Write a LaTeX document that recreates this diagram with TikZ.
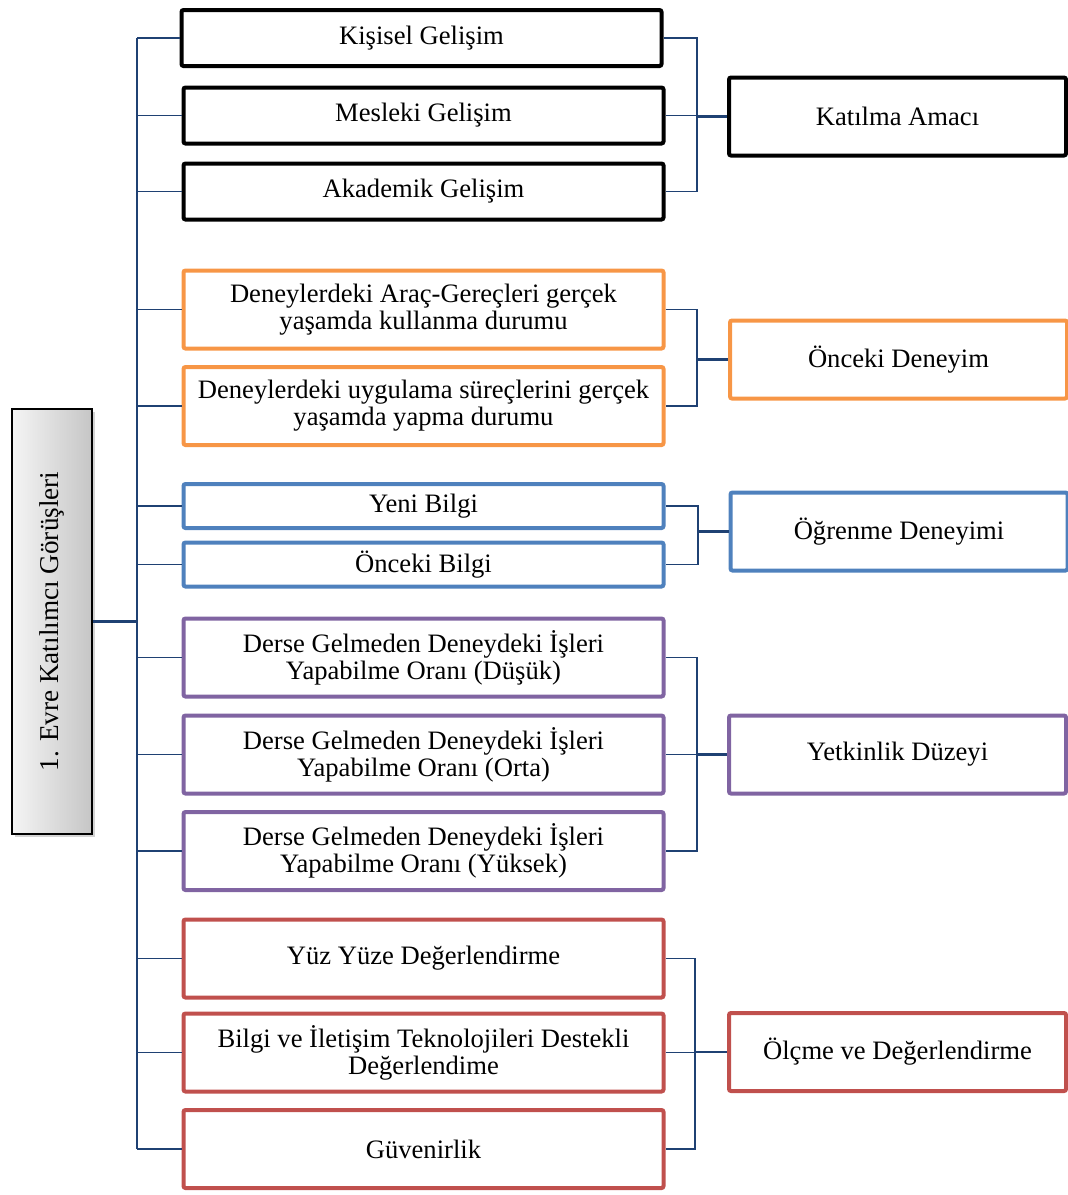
\documentclass[tikz,border=0pt]{standalone}
\usepackage{fontspec}
\setmainfont{Liberation Serif}
\usetikzlibrary{shadows}
\definecolor{connblue}{HTML}{1F4173}
\definecolor{orangeb}{HTML}{F79646}
\definecolor{blueb}{HTML}{4F81BD}
\definecolor{purpleb}{HTML}{8064A2}
\definecolor{redb}{HTML}{C0504D}
\begin{document}
\begin{tikzpicture}[x=0.5pt,y=-0.5pt,
	every node/.style={font=\fontsize{13.3}{13.6}\selectfont, align=center},
	midbox/.style={draw, line width=2pt, rounded corners=1pt, minimum width=240pt, inner sep=2pt},
	rightbox/.style={draw, line width=2pt, rounded corners=1pt, minimum width=168.5pt, minimum height=39pt, inner sep=2pt},
	conn/.style={draw=connblue, line width=0.8pt},
	thickconn/.style={draw=connblue, line width=1.3pt}]
	\useasboundingbox (0,0) rectangle (1068,1195);

	% root
	\draw[] (52,621.5) node[draw=black, line width=0.6pt, minimum width=40pt, minimum height=212.5pt,
		left color=gray!8, right color=gray!45, drop shadow={shadow xshift=1.5pt, shadow yshift=-1.5pt, opacity=0.35},
		font=\fontsize{13.6}{14}\selectfont] (Evre) {\rotatebox{90}{1. Evre Katılımcı Görüşleri}};

	% middle column
	\draw[] (421.5,38) node[midbox, minimum height=28pt] (Kisisel) {Kişisel Gelişim};
	\draw[] (423.5,115.5) node[midbox, minimum height=28pt] (Mesleki) {Mesleki Gelişim};
	\draw[] (423.5,191.5) node[midbox, minimum height=28pt] (Akademik) {Akademik Gelişim};

	\draw[] (423.5,309.5) node[midbox, draw=orangeb, minimum height=39pt] (AracGerec) {Deneylerdeki Araç-Gereçleri gerçek\\yaşamda kullanma durumu};
	\draw[] (423.5,406) node[midbox, draw=orangeb, minimum height=39pt] (Uygulama) {Deneylerdeki uygulama süreçlerini gerçek\\yaşamda yapma durumu};

	\draw[] (423.5,506) node[midbox, draw=blueb, minimum height=22pt] (YeniBilgi) {Yeni Bilgi};
	\draw[] (423.5,564.5) node[midbox, draw=blueb, minimum height=22pt] (OncekiBilgi) {Önceki Bilgi};

	\draw[] (423.5,657.5) node[midbox, draw=purpleb, minimum height=39pt] (YapDusuk) {Derse Gelmeden Deneydeki İşleri\\Yapabilme Oranı (Düşük)};
	\draw[] (423.5,754.5) node[midbox, draw=purpleb, minimum height=39pt] (YapOrta) {Derse Gelmeden Deneydeki İşleri\\Yapabilme Oranı (Orta)};
	\draw[] (423.5,851) node[midbox, draw=purpleb, minimum height=39pt] (YapYuksek) {Derse Gelmeden Deneydeki İşleri\\Yapabilme Oranı (Yüksek)};

	\draw[] (423.5,958.5) node[midbox, draw=redb, minimum height=39pt] (YuzYuze) {Yüz Yüze Değerlendirme};
	\draw[] (423.5,1052.5) node[midbox, draw=redb, minimum height=39pt] (BitDestekli) {Bilgi ve İletişim Teknolojileri Destekli\\Değerlendime};
	\draw[] (423.5,1149) node[midbox, draw=redb, minimum height=39pt] (Guvenirlik) {Güvenirlik};

	% right column
	\draw[] (897.5,116.5) node[rightbox] (KatilmaAmaci) {Katılma Amacı};
	\draw[] (898.5,359.5) node[rightbox, draw=orangeb] (OncekiDeneyim) {Önceki Deneyim};
	\draw[] (899,531.5) node[rightbox, draw=blueb] (OgrenmeDeneyimi) {Öğrenme Deneyimi};
	\draw[] (897.5,754.5) node[rightbox, draw=purpleb] (YetkinlikDuzeyi) {Yetkinlik Düzeyi};
	\draw[] (897.5,1052) node[rightbox, draw=redb] (OlcmeDeger) {Ölçme ve Değerlendirme};

	% trunk
	\coordinate (Trunk) at (137,621.5);
	\draw[thickconn] (Evre.east) -- (Trunk);
	\draw[conn] (Trunk |- Kisisel.west) -- (Trunk |- Guvenirlik.west);
	\foreach \n in {Kisisel,Mesleki,Akademik,AracGerec,Uygulama,YeniBilgi,OncekiBilgi,YapDusuk,YapOrta,YapYuksek,YuzYuze,BitDestekli,Guvenirlik}
		\draw[conn] (Trunk |- \n.west) -- (\n.west);

	% brackets
	\coordinate (BrA) at (697,116.5);
	\coordinate (BrB) at (697,359.5);
	\coordinate (BrC) at (698,531.5);
	\coordinate (BrD) at (697,754.5);
	\coordinate (BrE) at (695,1052);

	\draw[conn] (Kisisel.east) -| (BrA) |- (Akademik.east);
	\draw[conn] (Mesleki.east) -- (Mesleki.east -| BrA);
	\draw[thickconn] (BrA) -- (KatilmaAmaci.west);

	\draw[conn] (AracGerec.east) -| (BrB) |- (Uygulama.east);
	\draw[thickconn] (BrB) -- (OncekiDeneyim.west);

	\draw[conn] (YeniBilgi.east) -| (BrC) |- (OncekiBilgi.east);
	\draw[thickconn] (BrC) -- (OgrenmeDeneyimi.west);

	\draw[conn] (YapDusuk.east) -| (BrD) |- (YapYuksek.east);
	\draw[conn] (YapOrta.east) -- (BrD);
	\draw[thickconn] (BrD) -- (YetkinlikDuzeyi.west);

	\draw[conn] (YuzYuze.east) -| (BrE) |- (Guvenirlik.east);
	\draw[conn] (BitDestekli.east) -- (BitDestekli.east -| BrE);
	\draw[thickconn] (BrE) -- (OlcmeDeger.west);
\end{tikzpicture}
\end{document}
